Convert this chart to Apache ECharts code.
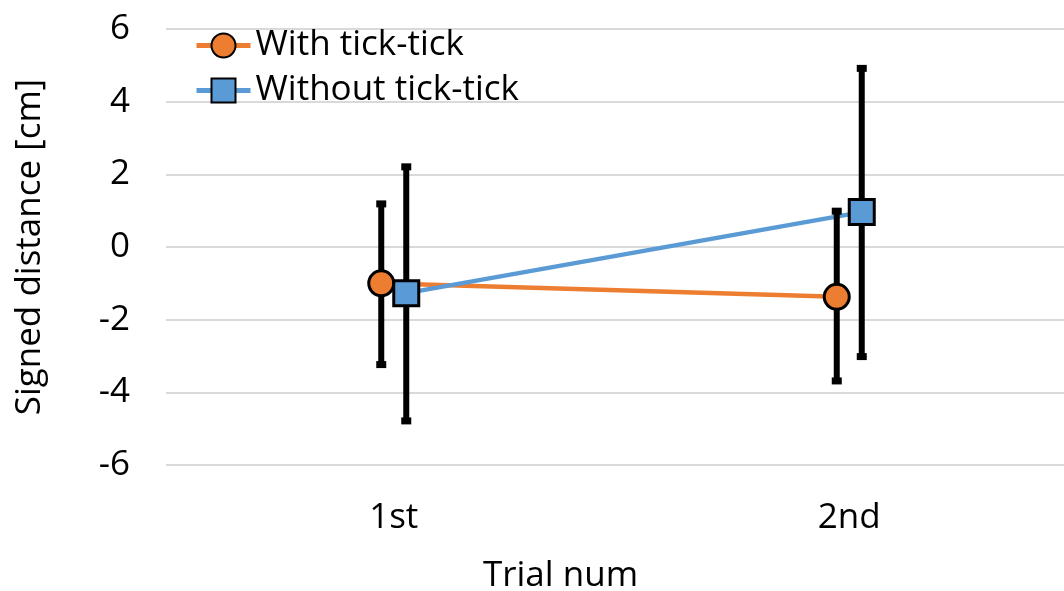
<!DOCTYPE html>
<html>
<head>
<meta charset="utf-8">
<script src="https://cdn.jsdelivr.net/npm/echarts@6/dist/echarts.min.js"></script>
<style>
  html, body { margin: 0; padding: 0; background: #ffffff; }
  #chart { width: 1064px; height: 591px; }
</style>
</head>
<body>
<div id="chart"></div>
<script>
// Trial categories
const trials = ['1st', '2nd'];
// Mean signed distance [cm] and error-bar ends per condition
const withMean = [-1.0, -1.37];
const withHigh = [1.2, 1.0];
const withLow = [-3.25, -3.7];
const withoutMean = [-1.27, 0.96];
const withoutHigh = [2.22, 4.93];
const withoutLow = [-4.8, -3.03];
// Y axis ticks
const yMin = -6, yMax = 6, yStep = 2;

const ORANGE = '#ED7D31';
const BLUE = '#5B9BD5';
const FONT = '"Open Sans"';
const FS = 35;

// Pixel shift that keeps the two conditions side by side in each category
const SHIFT = 12.5;

function lineSeries(name, means, color, dx) {
  return {
    type: 'custom',
    name: name + ' line',
    z: 2,
    data: means.map((m, i) => [i, m]),
    renderItem: function (params, api) {
      const i = api.value(0);
      if (i === 0) return null;
      const p0 = api.coord([i - 1, means[i - 1]]);
      const p1 = api.coord([i, api.value(1)]);
      return {
        type: 'line',
        shape: { x1: p0[0] + dx, y1: p0[1], x2: p1[0] + dx, y2: p1[1] },
        style: { stroke: color, lineWidth: 4.5 }
      };
    }
  };
}

function pointSeries(name, means, lows, highs, color, shape, dx) {
  return {
    type: 'custom',
    name: name + ' points',
    z: 3,
    data: means.map((m, i) => [i, m, lows[i], highs[i]]),
    renderItem: function (params, api) {
      const i = api.value(0);
      const c = api.coord([i, api.value(1)]);
      const lo = api.coord([i, api.value(2)]);
      const hi = api.coord([i, api.value(3)]);
      const x = c[0] + dx;
      const children = [
        { type: 'line', shape: { x1: x, y1: hi[1], x2: x, y2: lo[1] },
          style: { stroke: '#000', lineWidth: 6 } },
        { type: 'rect', shape: { x: x - 5, y: hi[1] - 3, width: 10, height: 7 },
          style: { fill: '#000' } },
        { type: 'rect', shape: { x: x - 5, y: lo[1] - 4, width: 10, height: 7 },
          style: { fill: '#000' } }
      ];
      if (shape === 'circle') {
        children.push({ type: 'circle', shape: { cx: x, cy: c[1], r: 12.5 },
          style: { fill: color, stroke: '#000', lineWidth: 3 } });
      } else {
        children.push({ type: 'rect', shape: { x: x - 12.5, y: c[1] - 12.5, width: 25, height: 25 },
          style: { fill: color, stroke: '#000', lineWidth: 3 } });
      }
      return { type: 'group', children: children };
    }
  };
}

// Empty line series that only supply legend entries
function legendSeries(name, color, symbol) {
  return {
    type: 'line',
    name: name,
    data: [],
    symbol: symbol,
    symbolSize: 26,
    lineStyle: { color: color, width: 5 },
    itemStyle: { color: color, borderColor: '#000', borderWidth: 3 }
  };
}

const chart = echarts.init(document.getElementById('chart'), null, { renderer: 'canvas' });
chart.setOption({
  backgroundColor: '#ffffff',
  animation: false,
  textStyle: { fontFamily: FONT },
  legend: {
    data: ['With tick-tick', 'Without tick-tick'],
    orient: 'vertical',
    left: 189,
    top: 23,
    itemWidth: 54,
    itemHeight: 30,
    itemGap: 10,
    lineStyle: { width: 5 },
    textStyle: { fontFamily: FONT, fontSize: FS, color: '#000' }
  },
  grid: { left: 166, right: -13, top: 29, bottom: 126, containLabel: false, outerBoundsMode: 'none' },
  xAxis: {
    type: 'category',
    data: trials,
    boundaryGap: true,
    axisLine: { show: false },
    axisTick: { show: false },
    axisLabel: { fontFamily: FONT, fontSize: FS, color: '#000', margin: 36 },
    name: 'Trial num',
    nameLocation: 'middle',
    nameGap: 94,
    nameTextStyle: { fontFamily: FONT, fontSize: FS, color: '#000', padding: [0, 122, 0, 0] }
  },
  yAxis: {
    type: 'value',
    min: yMin,
    max: yMax,
    interval: yStep,
    axisLine: { show: false },
    axisTick: { show: false },
    splitLine: { lineStyle: { color: '#d9d9d9', width: 2 } },
    axisLabel: { fontFamily: FONT, fontSize: FS, color: '#000', margin: 36 },
    name: 'Signed distance [cm]',
    nameLocation: 'middle',
    nameGap: 118,
    nameRotate: 90,
    nameTextStyle: { fontFamily: FONT, fontSize: FS, color: '#000' }
  },
  series: [
    lineSeries('With tick-tick', withMean, ORANGE, -SHIFT),
    lineSeries('Without tick-tick', withoutMean, BLUE, SHIFT),
    pointSeries('With tick-tick', withMean, withLow, withHigh, ORANGE, 'circle', -SHIFT),
    pointSeries('Without tick-tick', withoutMean, withoutLow, withoutHigh, BLUE, 'square', SHIFT),
    legendSeries('With tick-tick', ORANGE, 'circle'),
    legendSeries('Without tick-tick', BLUE, 'rect')
  ]
});
</script>
</body>
</html>
